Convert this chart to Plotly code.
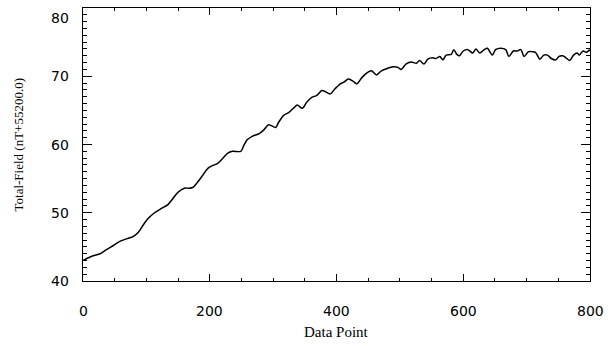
import plotly.graph_objects as go

# Data
data_point = [0, 6, 16, 27, 37, 48, 58, 69, 79, 87, 95, 102, 113, 123, 134, 142, 150, 160,
              167, 173, 181, 189, 197, 204, 212, 220, 228, 236, 249, 254, 259, 267, 278, 285,
              293, 304, 309, 317, 325, 333, 338, 346, 353, 361, 369, 377, 385, 390, 398, 406,
              411, 419, 427, 432, 440, 448, 455, 463, 471, 479, 489, 497, 502, 510, 518, 526,
              531, 538, 544, 552, 557, 563, 568, 573, 581, 585, 590, 594, 600, 607, 615, 620,
              626, 633, 638, 646, 651, 659, 667, 672, 679, 685, 691, 696, 703, 709, 714, 721,
              727, 733, 739, 746, 751, 757, 762, 768, 774, 780, 783, 789, 794, 800]
total_field = [43.0, 43.3, 43.7, 44.0, 44.6, 45.2, 45.8, 46.2, 46.5, 47.1, 48.2, 49.1, 50.0,
               50.6, 51.2, 52.1, 53.0, 53.6, 53.6, 53.7, 54.5, 55.5, 56.5, 56.9, 57.2, 57.9,
               58.7, 59.0, 59.0, 59.9, 60.7, 61.2, 61.6, 62.1, 62.9, 62.5, 63.3, 64.3, 64.7,
               65.4, 65.8, 65.3, 66.2, 66.9, 67.2, 67.9, 67.6, 67.4, 68.2, 68.9, 69.1, 69.6,
               69.2, 68.9, 69.8, 70.5, 70.8, 70.2, 70.8, 71.1, 71.4, 71.3, 71.0, 71.8, 72.1,
               71.9, 72.3, 71.8, 72.5, 72.7, 72.6, 72.9, 72.4, 73.1, 73.2, 73.9, 73.2, 73.0,
               73.7, 73.9, 73.4, 74.0, 73.4, 73.9, 74.1, 73.1, 73.9, 74.1, 73.9, 72.9, 73.7,
               73.7, 73.9, 72.9, 73.6, 73.6, 73.5, 72.5, 73.1, 73.1, 72.6, 72.4, 72.9, 73.0,
               72.7, 72.3, 73.1, 73.4, 73.1, 73.7, 73.5, 73.9]

x_range = [0, 800]
y_range = [40, 80]
x_tick_vals = [0, 200, 400, 600, 800]
y_tick_vals = [40, 50, 60, 70, 80]
# where the y labels are printed in the reference (the top label sits inside the frame)
y_label_pos = [40, 50, 60, 70, 78.5]

fig = go.Figure()
fig.add_trace(go.Scatter(
    x=data_point, y=total_field, mode="lines",
    line=dict(color="black", width=1.5, shape="spline", smoothing=0.8),
    hoverinfo="skip"))

tick_font = dict(family="DejaVu Sans", size=14, color="black")
hidden_font = dict(family="DejaVu Sans", size=14, color="rgba(0,0,0,0)")

annotations = []
for v in x_tick_vals:
    annotations.append(dict(text=str(v), xref="x", yref="paper", x=v, y=0, yshift=-30,
                            showarrow=False, font=tick_font, xanchor="center",
                            yanchor="middle"))
for v, p in zip(y_tick_vals, y_label_pos):
    annotations.append(dict(text=str(v), xref="paper", yref="y", x=0, y=p, xshift=-12,
                            showarrow=False, font=tick_font, xanchor="right",
                            yanchor="middle"))
annotations += [
    dict(text="Data Point", xref="paper", yref="paper", x=0.5, y=0, yshift=-51,
         showarrow=False, font=dict(family="Liberation Serif", size=15, color="black"),
         xanchor="center", yanchor="middle"),
    dict(text="Total-Field (nT+55200.0)", xref="paper", yref="paper", x=0, xshift=-65,
         y=0.5, textangle=-90, showarrow=False,
         font=dict(family="Liberation Serif", size=13, color="black"),
         xanchor="center", yanchor="middle"),
]

fig.update_layout(
    width=610, height=346,
    margin=dict(l=83, r=17, t=7, b=65),
    paper_bgcolor="white", plot_bgcolor="white",
    showlegend=False,
    xaxis=dict(range=x_range, tickmode="linear", tick0=0, dtick=200,
               showgrid=False, zeroline=False, showline=True, linecolor="black",
               linewidth=1, mirror="ticks", ticks="inside", ticklen=7, tickwidth=1,
               tickcolor="#000000", showticklabels=True, tickfont=hidden_font,
               minor=dict(tickmode="linear", tick0=0, dtick=50, ticks="inside", ticklen=3,
                          tickwidth=1, tickcolor="#000000", showgrid=False)),
    yaxis=dict(range=y_range, tickmode="linear", tick0=40, dtick=10,
               showgrid=False, zeroline=False, showline=True, linecolor="black",
               linewidth=1, mirror="ticks", ticks="inside", ticklen=9, tickwidth=1,
               tickcolor="#000000", showticklabels=True, tickfont=hidden_font,
               minor=dict(tickmode="linear", tick0=40, dtick=1, ticks="inside", ticklen=4,
                          tickwidth=1, tickcolor="#000000", showgrid=False)),
    annotations=annotations,
)

fig.write_html("out.html")
